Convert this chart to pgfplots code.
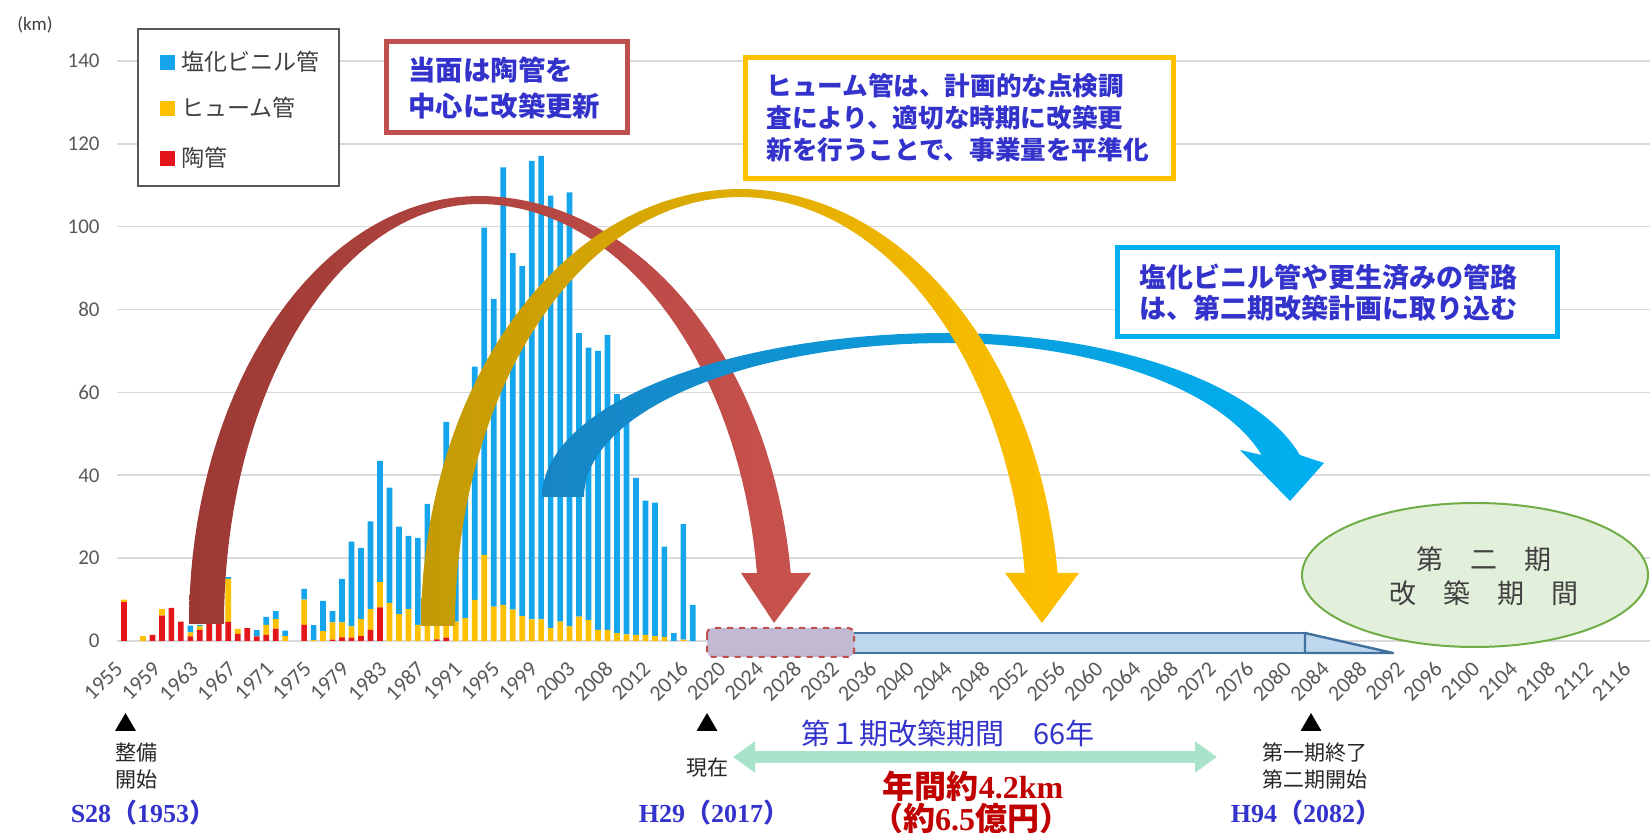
\documentclass[border=0pt]{standalone}
\usepackage{fontspec}
\usepackage{pgfplots}
\pgfplotsset{compat=1.18}
\usepackage{pgfplotstable}
\usetikzlibrary{arrows.meta}
\setmainfont{Carlito}
\newfontfamily\jp{Noto Sans CJK JP}
\newfontfamily\lserif{Liberation Serif}

\definecolor{cBlue}{HTML}{14A5EC}
\definecolor{cOrange}{HTML}{FFC000}
\definecolor{cRed}{HTML}{E3161B}
\definecolor{gridgray}{HTML}{D9D9D9}
\definecolor{tickgray}{HTML}{595959}
\definecolor{txtgray}{HTML}{404040}
\definecolor{msgblue}{HTML}{3333CC}
\definecolor{boxred}{HTML}{C0504D}
\definecolor{boxgold}{HTML}{FFC000}
\definecolor{boxblue}{HTML}{00B0F0}
\definecolor{arRedL}{HTML}{9C3934}
\definecolor{arRedR}{HTML}{C9524E}
\definecolor{arGoldL}{HTML}{C39A06}
\definecolor{arGoldR}{HTML}{FFC000}
\definecolor{arBlueL}{HTML}{1785C4}
\definecolor{arBlueR}{HTML}{00B0F0}
\definecolor{ellFill}{HTML}{E2EFDA}
\definecolor{ellLine}{HTML}{70AD47}
\definecolor{barFill}{HTML}{BDD7EE}
\definecolor{barLine}{HTML}{41719C}
\definecolor{dashFill}{HTML}{C2B9D3}
\definecolor{mint}{HTML}{A9E3C9}
\definecolor{dred}{HTML}{C00000}

% pipe length laid per year (km): clay pipe, Hume pipe, PVC pipe
\pgfplotstableread{
i  toukan hume enbi
0  9.4  0.6  0
1  0    0    0
2  0    1.2  0
3  1.5  0    0
4  6.1  1.6  0
5  8.0  0    0
6  4.7  0    0
7  1.1  1.0  1.6
8  2.7  0.8  0.4
9  4.2  0    0
10 5.3  5.7  0
11 4.6  10.4 0.4
12 1.7  1.2  0
13 3.1  0    0
14 1.1  0    1.5
15 1.5  2.4  1.9
16 3.0  2.3  1.9
17 0    1.2  1.3
18 0    0    0
19 3.9  6.1  2.6
20 0    0.2  3.6
21 0    2.4  7.3
22 0.3  4.2  2.7
23 0.9  3.6  10.5
24 0.8  2.7  20.5
25 1.2  4.1  17.2
26 2.7  5.0  21.2
27 8.1  6.1  29.3
28 0    9.2  27.8
29 0    6.5  21.1
30 0    7.7  17.7
31 0    3.9  21.0
32 0    4.0  29.1
33 0.4  3.5  12.0
34 0.8  3.0  49.1
35 0    4.7  40.3
36 0    5.5  44.5
37 0    9.9  56.3
38 0    20.8 79.0
39 0    8.3  74.3
40 0    8.7  105.6
41 0    7.6  86.0
42 0    6.0  84.5
43 0    5.2  110.7
44 0    5.2  111.9
45 0    3.1  104.4
46 0    4.7  98.3
47 0    3.5  104.8
48 0    5.9  68.4
49 0    5.1  65.7
50 0    2.7  67.3
51 0    2.7  71.2
52 0    1.9  57.7
53 0    1.6  55.4
54 0    1.5  37.9
55 0    1.5  32.4
56 0    1.2  32.2
57 0    1.0  21.8
58 0    0    1.9
59 0    0.3  27.9
60 0    0    8.7
}\pipedata

\begin{document}
\begin{tikzpicture}
\useasboundingbox (0,0) rectangle (825pt,419.5pt);
\clip (0,0) rectangle (825pt,419.5pt);

\begin{axis}[
  at={(58.68pt,99pt)}, anchor=south west,
  scale only axis, width=766.5pt, height=290pt,
  xmin=-0.7, xmax=161, ymin=0, ymax=140,
  axis x line*=bottom, axis y line*=left,
  x axis line style={draw=gridgray, line width=0.8pt, -},
  y axis line style={draw=none},
  major tick length=0pt,
  ytick={0,20,...,140},
  ymajorgrids, grid style={draw=gridgray, line width=0.8pt},
  xtick={0,3.9763,...,159.1},
  xticklabels={1955,1959,1963,1967,1971,1975,1979,1983,1987,1991,1995,1999,2003,2008,2012,2016,2020,2024,2028,2032,2036,2040,2044,2048,2052,2056,2060,2064,2068,2072,2076,2080,2084,2088,2092,2096,2100,2104,2108,2112,2116},
  xticklabel style={xshift=-2.4pt, yshift=-12pt, rotate=45, anchor=east, inner sep=0pt,
    font=\fontsize{11pt}{13pt}\selectfont, text=tickgray},
  yticklabel style={inner sep=0pt, font=\fontsize{10.5pt}{12pt}\selectfont,
    text=tickgray, xshift=-8.7pt},
  /pgf/number format/assume math mode=true,
  ybar stacked, bar width=0.6,
  clip=false,
]
\addplot[fill=cRed, draw=none] table[x=i, y=toukan] {\pipedata};
\addplot[fill=cOrange, draw=none] table[x=i, y=hume] {\pipedata};
\addplot[fill=cBlue, draw=none] table[x=i, y=enbi] {\pipedata};
\end{axis}

% annotations, laid out in pixel units with y pointing down
\begin{scope}[x=0.5pt, y=-0.5pt, shift={(0pt,419.5pt)}]
  % unit label
  \node[font=\fontsize{9.5pt}{11pt}\selectfont, text=txtgray] at (35,25) {(km)};

  % legend
  \draw[draw=gray!70!black, fill=white, line width=0.8pt] (138,29) rectangle (339,186);
  \fill[cBlue] (160,55) rectangle (175,70);
  \fill[cOrange] (160,101) rectangle (175,116);
  \fill[cRed] (160,151) rectangle (175,166);
  \begin{scope}[every node/.style={anchor=west, inner sep=0pt, text=txtgray,
      font=\jp\fontsize{11.5pt}{13pt}\selectfont}]
    \node at (181,62) {塩化ビニル管};
    \node at (181,108) {ヒューム管};
    \node at (181,158) {陶管};
  \end{scope}

  % second period timeline bar
  \draw[fill=barFill, draw=barLine, line width=1.2pt] (709,633) rectangle (1305,653);
  \draw[fill=barFill, draw=barLine, line width=1.2pt, line join=round]
    (1305,633) -- (1393,653) -- (1305,653) -- cycle;
  \draw[fill=dashFill, draw=boxred, dashed, line width=1pt, rounded corners=3pt]
    (707,628) rectangle (854,657);

  % renewal arrows
  \shade[left color=arRedL, right color=arRedR]
    plot[domain=180:270, samples=40] ({479+290*cos(\x)},{624+428*sin(\x)})
    -- plot[domain=270:353.16, samples=40] ({479+314*cos(\x)},{624+428*sin(\x)})
    -- (811,573) -- (774,623) -- (741,573)
    -- plot[domain=353.03:270, samples=40] ({479+280*cos(\x)},{624+420*sin(\x)})
    -- plot[domain=270:180, samples=40] ({479+255*cos(\x)},{624+420*sin(\x)})
    -- cycle;
  \shade[left color=arBlueL, right color=arBlueR]
    plot[domain=180:270, samples=40] ({947+405*cos(\x)},{497+164*sin(\x)})
    -- plot[domain=270:345.16, samples=40] ({947+365*cos(\x)},{497+164*sin(\x)})
    -- (1324,463) -- (1290,501) -- (1240,450)
    -- plot[domain=344.17:270, samples=40] ({947+327*cos(\x)},{497+154*sin(\x)})
    -- plot[domain=270:180, samples=40] ({947+363*cos(\x)},{497+154*sin(\x)})
    -- cycle;
  \shade[left color=arGoldL, right color=arGoldR]
    plot[domain=180:270, samples=40] ({740+319*cos(\x)},{626+437*sin(\x)})
    -- plot[domain=270:353.03, samples=40] ({740+320*cos(\x)},{626+437*sin(\x)})
    -- (1079,573) -- (1042,623) -- (1005,573)
    -- plot[domain=352.9:270, samples=40] ({740+287*cos(\x)},{626+429*sin(\x)})
    -- plot[domain=270:180, samples=40] ({740+285*cos(\x)},{626+429*sin(\x)})
    -- cycle;

  % message boxes
  \draw[draw=boxred, fill=white, line width=2.5pt] (386,42) rectangle (627,133);
  \node[anchor=west, inner sep=0pt, align=left, text=msgblue,
    font=\jp\bfseries\fontsize{13.7pt}{17.75pt}\selectfont] at (408,88)
    {当面は陶管を\\中心に改築更新};
  \draw[draw=boxgold, fill=white, line width=2.5pt] (745,58) rectangle (1173,179);
  \node[anchor=west, inner sep=0pt, align=left, text=msgblue,
    font=\jp\bfseries\fontsize{12.8pt}{16pt}\selectfont] at (766,118)
    {ヒューム管は、計画的な点検調\\査により、適切な時期に改築更\\新を行うことで、事業量を平準化};
  \draw[draw=boxblue, fill=white, line width=2.5pt] (1117,248) rectangle (1557,337);
  \node[anchor=west, inner sep=0pt, align=left, text=msgblue,
    font=\jp\bfseries\fontsize{13.5pt}{15.5pt}\selectfont] at (1139,292.5)
    {塩化ビニル管や更生済みの管路\\は、第二期改築計画に取り込む};

  % second period ellipse
  \draw[fill=ellFill, draw=ellLine, line width=1pt] (1475,575) ellipse [x radius=173, y radius=72];
  \node[text=txtgray, font=\jp\fontsize{13.5pt}{16pt}\selectfont] at (1484,559.5) {第　二　期};
  \node[text=txtgray, font=\jp\fontsize{13.5pt}{16pt}\selectfont] at (1484,593.5) {改　築　期　間};

  % milestones
  \fill[black] (115,731) -- (136,731) -- (125.5,713) -- cycle;
  \fill[black] (696.5,731) -- (717.5,731) -- (707,713) -- cycle;
  \fill[black] (1300.5,731) -- (1321.5,731) -- (1311,713) -- cycle;
  \begin{scope}[every node/.style={inner sep=0pt, text=black!85,
      font=\jp\fontsize{10.5pt}{13.5pt}\selectfont}]
    \node[anchor=west, align=left] at (115,766.5) {整備\\開始};
    \node at (707,768) {現在};
    \node[align=center] at (1315,766.5) {第一期終了\\第二期開始};
  \end{scope}
  \begin{scope}[every node/.style={inner sep=0pt, text=msgblue,
      font=\lserif\bfseries\fontsize{13pt}{15pt}\selectfont}]
    \node at (143,813) {S28{\jp （}1953{\jp ）}};
    \node at (714,813) {H29{\jp （}2017{\jp ）}};
    \node at (1306,813) {H94{\jp （}2082{\jp ）}};
  \end{scope}

  % first period span
  \draw[line width=6pt, color=mint,
    {Triangle[width=15pt,length=11pt]}-{Triangle[width=15pt,length=11pt]}]
    (733,757) -- (1217,757);
  \node[inner sep=0pt, text=msgblue, font=\jp\fontsize{14.5pt}{16pt}\selectfont]
    at (948,733) {第１期改築期間　66年};
  \node[inner sep=0pt, text=dred, font=\lserif\bfseries\fontsize{16pt}{18pt}\selectfont]
    at (973,786) {{\jp 年間約}4.2km};
  \node[inner sep=0pt, text=dred, font=\lserif\bfseries\fontsize{16pt}{18pt}\selectfont]
    at (971,818) {{\jp （約}6.5{\jp 億円）}};
\end{scope}
\end{tikzpicture}
\end{document}
